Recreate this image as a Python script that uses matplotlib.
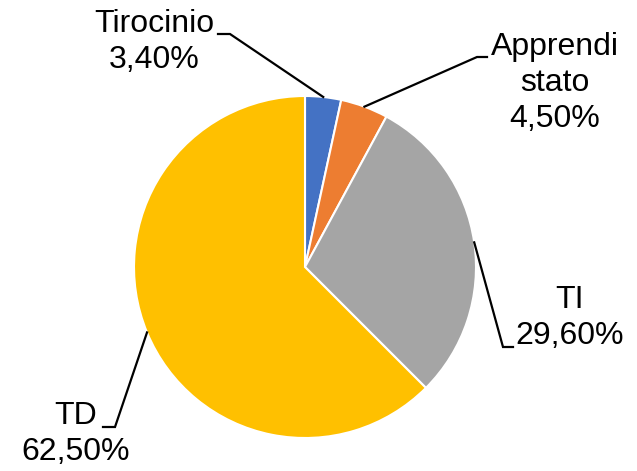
import numpy as np
import matplotlib
matplotlib.use("Agg")
import matplotlib.pyplot as plt

plt.rcParams['font.family'] = ['Liberation Sans', 'DejaVu Sans']

# dati
categorie = ["Tirocinio", "Apprendi\nstato", "TI", "TD"]
valori = [3.4, 4.5, 29.6, 62.5]
etichette = ["3,40%", "4,50%", "29,60%", "62,50%"]
colori = ["#4472C4", "#ED7D31", "#A5A5A5", "#FFC000"]

W, H = 637, 471
cx, cy, r = 305, 267, 171   # centro e raggio della torta in pixel


def px(x, y):
    # pixel dell'immagine -> coordinate dati (raggio torta = 1)
    return (x - cx) / r, (cy - y) / r


fig = plt.figure(figsize=(W / 100, H / 100), dpi=100)
ax = fig.add_axes([0, 0, 1, 1])

wedges, _ = ax.pie(valori, colors=colori, startangle=90, counterclock=False,
                   radius=1, wedgeprops=dict(edgecolor='white', linewidth=1.5))

# i limiti vanno fissati dopo pie(), che li ricalcola
ax.set_xlim(px(0, 0)[0], px(W, 0)[0])
ax.set_ylim(px(0, H)[1], px(0, 0)[1])
ax.set_aspect('equal')
ax.axis('off')

# gomito della linea guida, fine della linea e centro del testo (pixel)
gomiti = [(230, 34), (477, 57), (503, 347), (115, 427)]
fini = [(218, 34), (487, 57), (513, 347), (103, 427)]
testi = [(154, 42), (555, 83), (570, 318), (76, 434)]

for w, lab, perc, g, f, t in zip(wedges, categorie, etichette, gomiti, fini, testi):
    ang = np.deg2rad((w.theta1 + w.theta2) / 2)
    x0, y0 = np.cos(ang), np.sin(ang)
    gx, gy = px(*g)
    fx, fy = px(*f)
    ax.plot([x0, gx, fx], [y0, gy, fy], color='black', lw=1.6,
            solid_joinstyle='miter', clip_on=False)
    tx, ty = px(*t)
    ax.text(tx, ty, lab + "\n" + perc, ha='center', va='center',
            fontsize=23, linespacing=1.27, color='black')

fig.savefig("out.png", dpi=100, facecolor='white')
